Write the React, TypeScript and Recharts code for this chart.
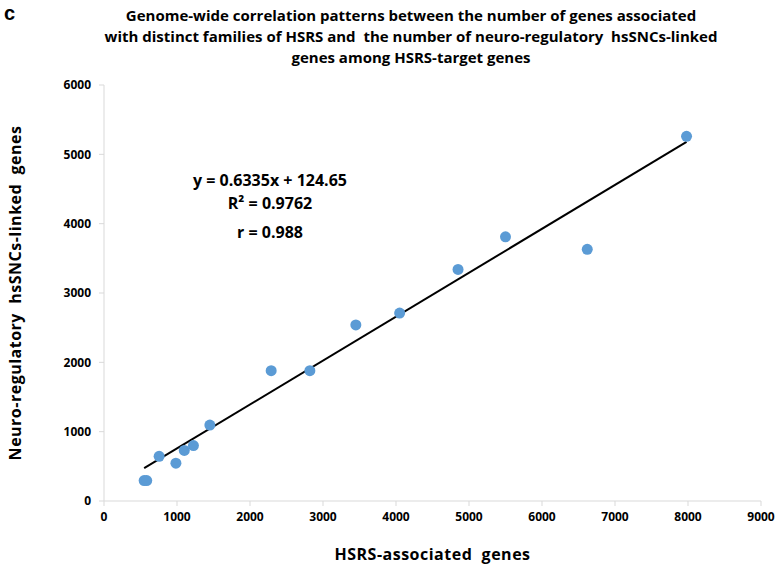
import React from "react"
import { ScatterChart, Scatter, XAxis, YAxis, ReferenceLine, Label } from "recharts"

// HSRS-associated genes (x) vs neuro-regulatory hsSNCs-linked genes (y)
const hsrsGenes = [550, 585, 755, 985, 1100, 1225, 1450, 2290, 2820, 3450, 4050, 4850, 5500, 6620, 7980]
const neuroGenes = [295, 295, 645, 545, 730, 800, 1095, 1880, 1880, 2540, 2710, 3340, 3810, 3630, 5260]

// linear trend line end points as drawn
const trendX = [550, 7980]
const trendY = [473, 5180]

const xTicks = [0, 1000, 2000, 3000, 4000, 5000, 6000, 7000, 8000, 9000]
const yTicks = [0, 1000, 2000, 3000, 4000, 5000, 6000]

const titleLines = [
  "Genome-wide correlation patterns between the number of genes associated",
  "with distinct families of HSRS and  the number of neuro-regulatory  hsSNCs-linked",
  "genes among HSRS-target genes",
]
const statLines = ["y = 0.6335x + 124.65", "R² = 0.9762", "r = 0.988"]

const points = hsrsGenes.map((x, i) => ({ x, y: neuroGenes[i] }))

const FONT = "'Open Sans', Lato, sans-serif"
const axisGray = "#d9d9d9"
const tickStyle = { fontSize: 12, fontWeight: 700, fill: "#000", fontFamily: FONT }
const labelStyle = { fontSize: 16, fontWeight: 700, fill: "#000", fontFamily: FONT, letterSpacing: 0.5 }

export default function App() {
  return (
    <div style={{ position: "absolute", left: 0, top: 0, width: 780, height: 566, background: "#fff", fontFamily: FONT }}>
      <div style={{ position: "absolute", left: 4, top: 2, fontSize: 20, fontWeight: 700, fontFamily: "'Liberation Sans', Arial, sans-serif" }}>c</div>
      <div style={{ position: "absolute", left: 0, top: 5, width: 822, textAlign: "center", fontSize: 15, fontWeight: 700, lineHeight: "21px", whiteSpace: "pre" }}>
        {titleLines.map(t => <div key={t}>{t}</div>)}
      </div>

      <ScatterChart width={780} height={566} margin={{ top: 85, right: 19, bottom: 0, left: 44 }}>
        <XAxis
          type="number"
          dataKey="x"
          domain={[0, 9000]}
          ticks={xTicks}
          height={65}
          stroke={axisGray}
          tickLine={{ stroke: axisGray }}
          tickSize={5}
          tick={tickStyle}
          tickMargin={6}
        >
          <Label value={"HSRS-associated\u00a0 genes"} position="insideBottom" offset={6} style={labelStyle} />
        </XAxis>
        <YAxis
          type="number"
          dataKey="y"
          domain={[0, 6000]}
          ticks={yTicks}
          width={60}
          stroke={axisGray}
          tickLine={{ stroke: axisGray }}
          tickSize={5}
          tick={tickStyle}
          tickMargin={8}
        >
          <Label value={"Neuro-regulatory\u00a0 hsSNCs-linked\u00a0 genes"} angle={-90} position="insideLeft" offset={-29} style={{ ...labelStyle, textAnchor: "middle" }} />
        </YAxis>
        <ReferenceLine
          segment={[{ x: trendX[0], y: trendY[0] }, { x: trendX[1], y: trendY[1] }]}
          stroke="#000"
          strokeWidth={2}
        />
        <Scatter data={points} fill="#5B9BD5" isAnimationActive={false} shape={(p: any) => <circle cx={p.cx} cy={p.cy} r={5.5} fill="#5B9BD5" />} />
      </ScatterChart>

      {statLines.map((s, i) => (
        <div key={s} style={{ position: "absolute", left: 170, width: 200, top: [171, 194, 223][i], textAlign: "center", fontSize: 16, fontWeight: 700, lineHeight: "18px", whiteSpace: "pre" }}>{s}</div>
      ))}
    </div>
  )
}
